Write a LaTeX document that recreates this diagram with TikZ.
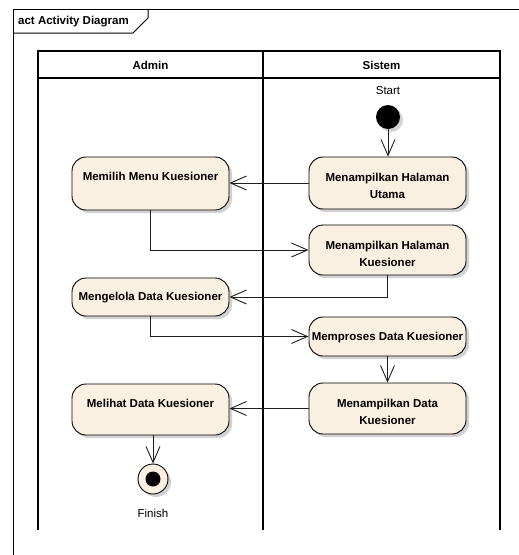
\documentclass[tikz,border=0pt]{standalone}
\usepackage{fontspec}
\setmainfont{Liberation Sans}
\usetikzlibrary{arrows.meta,shadows}
\definecolor{actfill}{RGB}{250,240,225}
\definecolor{lineclr}{RGB}{30,30,30}
\begin{document}
\begin{tikzpicture}[x=1pt,y=-1pt,
  shade3/.style={drop shadow={shadow xshift=3pt, shadow yshift=-3pt, fill=black!35}},
  act/.style={draw=black, line width=0.9pt, fill=actfill, rounded corners=14pt,
    minimum width=157pt, inner sep=0pt, shade3},
  acttext/.style={font=\fontsize{11.5}{17}\selectfont\bfseries, align=center, inner sep=0pt},
  plain/.style={font=\fontsize{11.5}{14}\selectfont, inner sep=0pt},
  flow/.style={draw=lineclr, line width=0.9pt,
    -{Straight Barb[length=16pt,width=14pt,line width=0.9pt]}},
  lane/.style={draw=black, line width=1.3pt},
]
\useasboundingbox (0,0) rectangle (519,555);

% diagram frame and its name tab
\draw[line width=1pt] (13,560) -- (13,9) -- (525,9);
\draw[line width=1pt] (13,33) -- (133,33) -- (148,18) -- (148,9);
\node[acttext, anchor=west] (title) at (18,22) {act Activity Diagram};

% swimlanes (open at the bottom)
\draw[lane] (38,530) -- (38,51) -- (500,51) -- (500,530);
\draw[lane] (263,51) -- (263,530);
\draw[lane] (38,78) -- (500,78);
\node[acttext] (admin) at (150.5,65) {Admin};
\node[acttext] (sistem) at (381.5,65) {Sistem};

% initial node
\node[circle, fill=black, minimum size=24pt, inner sep=0pt, shade3] (start) at (388,117) {};
\node[plain] (startlbl) at (388,91) {Start};

% actions
\node[act, minimum height=52pt] (mhu) at (387.5,183) {};
\node[acttext, anchor=north] (mhu-t) at ([yshift=-16.8pt]mhu.north) {Menampilkan Halaman\\Utama};

\node[act, minimum height=53pt] (memilih) at (150.5,183.5) {};
\node[acttext, anchor=base] (memilih-t) at ([yshift=-24pt]memilih.north) {Memilih Menu Kuesioner};

\node[act, minimum height=50pt] (mhk) at (387.5,250) {};
\node[acttext, anchor=north] (mhk-t) at ([yshift=-16.8pt]mhk.north) {Menampilkan Halaman\\Kuesioner};

\node[act, minimum height=38pt] (mengelola) at (150.5,297) {};
\node[acttext, anchor=base] (mengelola-t) at ([yshift=-23pt]mengelola.north) {Mengelola Data Kuesioner};

\node[act, minimum height=39pt] (memproses) at (387.5,336.5) {};
\node[acttext, anchor=base] (memproses-t) at ([yshift=-24pt]memproses.north) {Memproses Data Kuesioner};

\node[act, minimum height=51pt] (mdk) at (387.5,408.5) {};
\node[acttext, anchor=north] (mdk-t) at ([yshift=-16.8pt]mdk.north) {Menampilkan Data\\Kuesioner};

\node[act, minimum height=51pt] (melihat) at (150.5,409.5) {};
\node[acttext, anchor=base] (melihat-t) at ([yshift=-24pt]melihat.north) {Melihat Data Kuesioner};

% final node
\node[circle, draw=black, line width=0.9pt, fill=actfill, minimum size=30pt, inner sep=0pt, shade3] (final) at (153,479) {};
\node[circle, fill=black, minimum size=15pt, inner sep=0pt] (finaldot) at (final) {};
\node[plain] (finishlbl) at (153,513) {Finish};

% control flows
\draw[flow] (start.south) -- (start.south |- mhu.north);
\draw[flow] (mhu.west) -- (mhu.west -| memilih.east);
\draw[flow] (memilih.south) |- (mhk.west);
\draw[flow] (mhk.south) |- (mengelola.east);
\draw[flow] (mengelola.south) |- (memproses.west);
\draw[flow] (memproses.south) -- (mdk.north);
\draw[flow] (mdk.west) -- (mdk.west -| melihat.east);
\draw[flow] (melihat.south -| final) -- (final.north);
\end{tikzpicture}
\end{document}
